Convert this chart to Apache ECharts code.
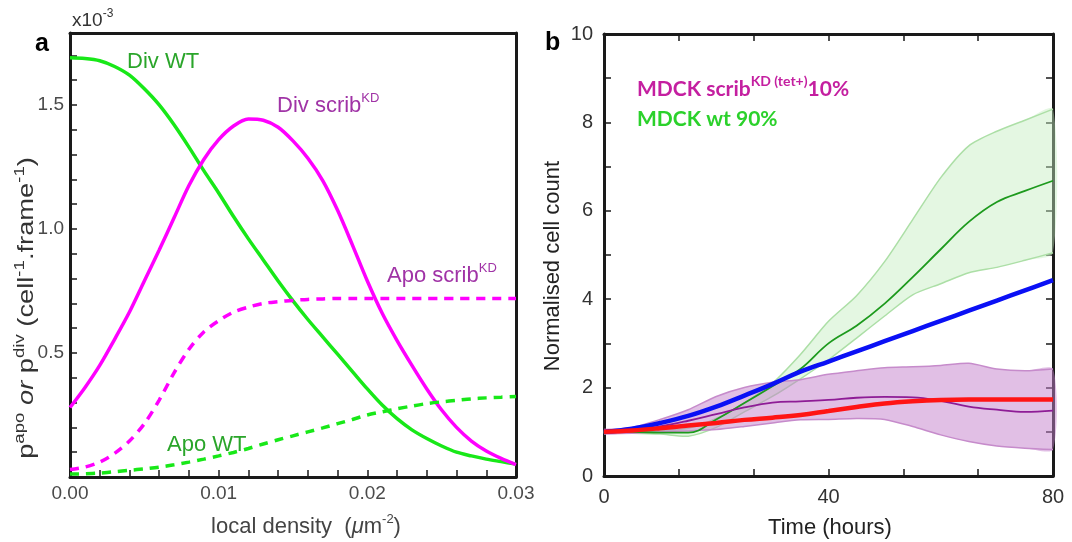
<!DOCTYPE html>
<html><head><meta charset="utf-8">
<script src="https://cdn.jsdelivr.net/npm/echarts@6/dist/echarts.min.js"></script>
<style>html,body{margin:0;padding:0;background:#fff}#c{width:1072px;height:542px}</style>
</head><body><div id="c"></div>
<script>
// ---- Panel a data (values in units of 1e-3) ----
const densityX = [0, 0.001, 0.002, 0.003, 0.004, 0.005, 0.006, 0.007, 0.008, 0.009, 0.010,
                  0.011, 0.012, 0.013, 0.014, 0.015, 0.016, 0.017, 0.018, 0.019, 0.020,
                  0.021, 0.022, 0.023, 0.024, 0.025, 0.026, 0.027, 0.028, 0.029, 0.030];
const divWT    = [1.69, 1.687, 1.678, 1.655, 1.62, 1.565, 1.50, 1.42, 1.33, 1.235, 1.145,
                  1.05, 0.96, 0.875, 0.79, 0.71, 0.635, 0.565, 0.495, 0.425, 0.355,
                  0.29, 0.235, 0.19, 0.155, 0.125, 0.10, 0.085, 0.072, 0.062, 0.052];
const divScrib = [0.28, 0.36, 0.45, 0.555, 0.665, 0.79, 0.915, 1.045, 1.175, 1.28, 1.36,
                  1.415, 1.443, 1.438, 1.41, 1.355, 1.285, 1.195, 1.075, 0.935, 0.79,
                  0.66, 0.55, 0.45, 0.355, 0.27, 0.20, 0.145, 0.105, 0.075, 0.05];
const apoScrib = [0.03, 0.04, 0.06, 0.095, 0.145, 0.215, 0.31, 0.42, 0.515, 0.585, 0.63,
                  0.665, 0.685, 0.70, 0.707, 0.712, 0.716, 0.718, 0.72, 0.72, 0.72,
                  0.72, 0.72, 0.72, 0.72, 0.72, 0.72, 0.72, 0.72, 0.72, 0.72];
const apoWT    = [0.012, 0.013, 0.016, 0.021, 0.027, 0.033, 0.04, 0.049, 0.06, 0.072, 0.085,
                  0.099, 0.115, 0.133, 0.15, 0.166, 0.182, 0.198, 0.215, 0.232, 0.25,
                  0.263, 0.275, 0.286, 0.296, 0.303, 0.309, 0.315, 0.319, 0.322, 0.325];
const aXTickLabels = [0, 0.01, 0.02, 0.03];
const aYTickLabels = [0.5, 1.0, 1.5];

// ---- Panel b data ----
const hours    = [0, 5, 10, 15, 20, 25, 30, 35, 40, 45, 50, 55, 60, 65, 70, 75, 80];
const wtMean   = [1.0, 1.0, 0.98, 0.98, 1.28, 1.65, 2.03, 2.42, 3.0, 3.4, 3.9, 4.5, 5.13, 5.75, 6.2, 6.45, 6.68];
const wtUpper  = [1.0, 1.02, 1.03, 1.08, 1.3, 1.65, 2.1, 2.75, 3.5, 4.08, 4.85, 5.8, 6.75, 7.47, 7.8, 8.05, 8.3];
const wtLower  = [0.98, 0.97, 0.95, 0.9, 1.1, 1.45, 1.8, 2.2, 2.63, 3.12, 3.62, 4.1, 4.35, 4.6, 4.72, 4.88, 5.05];
const kdMean   = [1.0, 1.03, 1.12, 1.25, 1.4, 1.55, 1.66, 1.69, 1.72, 1.77, 1.79, 1.78, 1.7, 1.57, 1.5, 1.45, 1.48];
const kdUpper  = [1.05, 1.1, 1.28, 1.5, 1.8, 2.0, 2.12, 2.18, 2.3, 2.38, 2.45, 2.47, 2.5, 2.55, 2.42, 2.38, 2.42];
const kdLower  = [0.95, 0.97, 1.0, 1.02, 1.05, 1.12, 1.2, 1.27, 1.28, 1.3, 1.28, 1.12, 0.93, 0.78, 0.68, 0.63, 0.6];
const modelWT  = [1.0, 1.07, 1.2, 1.36, 1.57, 1.82, 2.08, 2.36, 2.59, 2.82, 3.05, 3.28, 3.51, 3.74, 3.97, 4.2, 4.43];
const modelKD  = [1.0, 1.03, 1.08, 1.14, 1.2, 1.27, 1.32, 1.38, 1.47, 1.56, 1.64, 1.69, 1.72, 1.73, 1.73, 1.73, 1.73];
const bXTickLabels = [0, 40, 80];
const bYTickLabels = [0, 2, 4, 6, 8, 10];

const pairs = (xs, ys) => xs.map((x, i) => [x, ys[i]]);
const near = (v, list) => list.some(t => Math.abs(v - t) < 1e-6);

const FONT = "'Liberation Sans', Arial, sans-serif";
const AX = '#1a1a1a';
const GREEN = '#18e818', MAG = '#ff00ff';

const chart = echarts.init(document.getElementById('c'), null, {renderer: 'canvas'});

function axisBase(gridIndex, extra) {
  return Object.assign({
    gridIndex, type: 'value',
    axisLine: {show: true, onZero: false, lineStyle: {color: AX, width: 3}},
    splitLine: {show: false},
    axisTick: {show: true, inside: true, length: 7, lineStyle: {color: AX, width: 1.5}},
  }, extra);
}

function bandSeries(lo, hi, fill, stroke, z) {
  return {
    type: 'custom', xAxisIndex: 2, yAxisIndex: 2, z, silent: true,
    data: hours.map((t, i) => [t, lo[i], hi[i]]),
    encode: {x: 0, y: [1, 2]},
    renderItem: (params, api) => {
      if (params.dataIndex !== 0) return null;
      const top = hours.map((t, i) => api.coord([t, hi[i]]));
      const bot = hours.map((t, i) => api.coord([t, lo[i]]));
      return {type: 'group', children: [
        {type: 'polygon', shape: {points: top.concat(bot.slice().reverse()), smooth: 0.25}, style: {fill: fill, stroke: null}},
        {type: 'polyline', shape: {points: top, smooth: 0.25}, style: {stroke: stroke, fill: null, lineWidth: 1.5}},
        {type: 'polyline', shape: {points: bot, smooth: 0.25}, style: {stroke: stroke, fill: null, lineWidth: 1.5}}
      ]};
    }
  };
}

function lineA(ys, color, dashed) {
  return {type: 'line', xAxisIndex: 0, yAxisIndex: 0, data: pairs(densityX, ys), smooth: 0.3,
    showSymbol: false, lineStyle: {color, width: 3.5, type: dashed ? [9, 7] : 'solid'}, z: 3};
}
function lineB(ys, color, width, z) {
  return {type: 'line', xAxisIndex: 2, yAxisIndex: 2, data: pairs(hours, ys), smooth: 0.4,
    showSymbol: false, lineStyle: {color, width}, z};
}

const supRich = (fill, size, supSize) => ({
  n: {fontSize: size, fontFamily: FONT, fill, verticalAlign: 'bottom', lineHeight: size + 3},
  i: {fontSize: size, fontFamily: FONT, fontStyle: 'italic', fill, verticalAlign: 'bottom', lineHeight: size + 3},
  s: {fontSize: supSize, fontFamily: FONT, fill, verticalAlign: 'top', lineHeight: supSize + 2}
});

const option = {
  animation: false,
  backgroundColor: '#fff',
  grid: [
    {left: 70, top: 33, width: 446, height: 444},
    {left: 604, top: 34, width: 449, height: 442}
  ],
  xAxis: [
    axisBase(0, {min: 0, max: 0.03, interval: 0.01, position: 'bottom',
      minorTick: {show: true, splitNumber: 5, length: 7, lineStyle: {color: AX, width: 1.5}},
      axisLabel: {margin: 7, color: '#4a4a4a', fontSize: 19, fontFamily: FONT,
        formatter: v => near(v, aXTickLabels) ? v.toFixed(2) : ''}}),
    axisBase(0, {min: 0, max: 0.03, position: 'top', axisTick: {show: false}, axisLabel: {show: false}}),
    axisBase(1, {min: 0, max: 80, interval: 40, position: 'bottom',
      minorTick: {show: true, splitNumber: 3, length: 7, lineStyle: {color: AX, width: 1.5}},
      axisLabel: {margin: 11, color: '#333', fontSize: 20, fontFamily: FONT,
        formatter: v => near(v, bXTickLabels) ? String(v) : ''}}),
    axisBase(1, {min: 0, max: 80, interval: 40, position: 'top',
      minorTick: {show: true, splitNumber: 3, length: 7, lineStyle: {color: AX, width: 1.5}},
      axisLabel: {show: false}})
  ],
  yAxis: [
    axisBase(0, {min: 0, max: 1.79, interval: 0.1, position: 'left',
      axisLabel: {margin: 6, color: '#4a4a4a', fontSize: 19, fontFamily: FONT,
        formatter: v => near(v, aYTickLabels) ? v.toFixed(1) : ''}}),
    axisBase(0, {min: 0, max: 1.79, position: 'right', axisTick: {show: false}, axisLabel: {show: false}}),
    axisBase(1, {min: 0, max: 10, interval: 1, position: 'left',
      axisLabel: {margin: 11, color: '#333', fontSize: 20, fontFamily: FONT,
        formatter: v => near(v, bYTickLabels) ? String(v) : ''}}),
    axisBase(1, {min: 0, max: 10, interval: 1, position: 'right', axisLabel: {show: false}})
  ],
  series: [
    lineA(divWT, GREEN, false),
    lineA(divScrib, MAG, false),
    lineA(apoScrib, MAG, true),
    lineA(apoWT, GREEN, true),
    bandSeries(wtLower, wtUpper, 'rgba(196,238,190,0.45)', '#acdfa6', 1),
    bandSeries(kdLower, kdUpper, 'rgba(196,128,204,0.5)', '#c68bcb', 2),
    lineB(wtMean, '#1d9a1d', 1.8, 3),
    lineB(kdMean, '#8e1c96', 1.8, 3),
    lineB(modelWT, '#0a10f5', 4.5, 4),
    lineB(modelKD, '#ff1414', 4.5, 5)
  ],
  graphic: [
    {type: 'text', z: 100, x: 35, y: 44, style: {text: 'a', fill: '#000', font: "bold 25px 'Liberation Sans', Arial", verticalAlign: 'middle'}},
    {type: 'text', z: 100, x: 545, y: 43, style: {text: 'b', fill: '#000', font: "bold 25px 'Liberation Sans', Arial", verticalAlign: 'middle'}},
    {type: 'text', z: 100, x: 72, y: 19, style: {text: '{n|x10}{s|-3}', verticalAlign: 'middle', rich: supRich('#333', 19, 12)}},
    {type: 'text', z: 100, x: 127, y: 62, style: {text: 'Div WT', fill: '#2aa52a', font: "22px 'Liberation Sans', Arial", verticalAlign: 'middle'}},
    {type: 'text', z: 100, x: 277, y: 104, style: {text: '{n|Div scrib}{s|KD}', verticalAlign: 'middle', rich: supRich('#a033a6', 22, 13)}},
    {type: 'text', z: 100, x: 387, y: 274, style: {text: '{n|Apo scrib}{s|KD}', verticalAlign: 'middle', rich: supRich('#a033a6', 22, 13)}},
    {type: 'text', z: 100, x: 167, y: 445, style: {text: 'Apo WT', fill: '#2aa52a', font: "22px 'Liberation Sans', Arial", verticalAlign: 'middle'}},
    {type: 'text', z: 100, x: 306, y: 525, style: {text: '{n|local density  (}{i|μ}{n|m}{s|-2}{n|)}', align: 'center', verticalAlign: 'middle', rich: supRich('#444', 22, 13)}},
    {type: 'text', z: 100, x: 25, y: 308, rotation: Math.PI / 2, scaleX: 1.24, style: {
      text: '{n|p}{s|apo}{i| or }{n|p}{s|div}{n| (cell}{s|-1}{n|.frame}{s|-1}{n|)}', align: 'center', verticalAlign: 'middle',
      rich: supRich('#333', 22, 15)}},
    {type: 'text', z: 100, x: 637, y: 87, style: {text: '{n|MDCK scrib}{s|KD (tet+)}{n|10%}', verticalAlign: 'middle',
      rich: {n: {fontSize: 21, fontFamily: 'Lato, sans-serif', fontWeight: 'bold', fill: '#c41fa0', verticalAlign: 'bottom', lineHeight: 25},
             s: {fontSize: 14, fontFamily: 'Lato, sans-serif', fontWeight: 'bold', fill: '#c41fa0', verticalAlign: 'top', lineHeight: 15}}}},
    {type: 'text', z: 100, x: 637, y: 119, style: {text: 'MDCK wt 90%', fill: '#2bd12b', font: "bold 21px Lato, sans-serif", verticalAlign: 'middle'}},
    {type: 'text', z: 100, x: 553, y: 266, rotation: Math.PI / 2, style: {text: 'Normalised cell count', fill: '#222',
      font: "22px 'Liberation Sans', Arial", align: 'center', verticalAlign: 'middle'}},
    {type: 'text', z: 100, x: 830, y: 528, style: {text: 'Time (hours)', fill: '#222',
      font: "22px 'Liberation Sans', Arial", align: 'center', verticalAlign: 'middle'}}
  ]
};
chart.setOption(option);
</script>
</body></html>
